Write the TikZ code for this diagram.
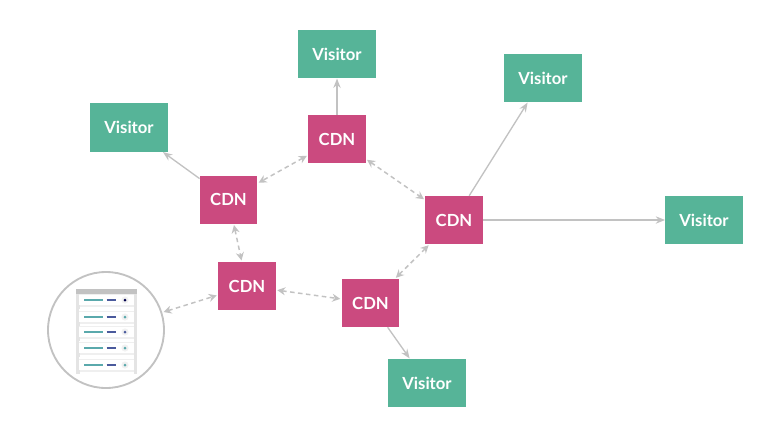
\documentclass[tikz,border=0pt]{standalone}
\usepackage{fontspec}
\setmainfont{Lato}
\usetikzlibrary{
  positioning,
  arrows.meta
}
\definecolor{cdnpink}{HTML}{CB4A7F}
\definecolor{visgreen}{HTML}{56B498}
\definecolor{linegray}{HTML}{C2C2C2}
\definecolor{rackgray}{HTML}{E4E4E4}
\definecolor{rackteal}{HTML}{5AA9AC}
\definecolor{racknavy}{HTML}{4A5A9C}

\begin{document}
\begin{tikzpicture}[
  x=0.75pt, y=-0.75pt,
  cdn/.style={rectangle, fill=cdnpink, text=white, inner sep=0pt, minimum width=43pt, minimum height=36pt, font=\bfseries\fontsize{12.5}{15}\selectfont},
  visitor/.style={rectangle, fill=visgreen, text=white, inner sep=0pt, minimum width=58pt, minimum height=36.5pt, font=\bfseries\fontsize{12.5}{15}\selectfont},
  link/.style={-{Stealth[length=7pt,width=5.5pt]}, linegray, line width=1pt},
  peer/.style={{Stealth[length=6pt,width=6pt]}-{Stealth[length=6pt,width=6pt]}, linegray, line width=1.1pt, dash pattern=on 3.4pt off 2.6pt, shorten >=1pt, shorten <=1pt}
]
\useasboundingbox (0,0) rectangle (777,432);

% CDN nodes
\node[cdn] (cdn1) at (337,139) {CDN};
\node[cdn] (cdn2) at (228.5,199.5) {CDN};
\node[cdn] (cdn3) at (247,286) {CDN};
\node[cdn] (cdn4) at (370.5,303) {CDN};
\node[cdn] (cdn5) at (454,220) {CDN};

% Visitors
\node[visitor] (v1) at (337,54) {Visitor};
\node[visitor] (v2) at (129,127.5) {Visitor};
\node[visitor] (v3) at (543,78) {Visitor};
\node[visitor] (v4) at (704,220) {Visitor};
\node[visitor] (v5) at (427,383) {Visitor};

% Server
\node[circle, draw=linegray, line width=1.4pt, minimum size=87pt, inner sep=0pt] (server) at (106,330) {};
\fill[rackgray] (76,289) rectangle (137,372);
\fill[white] (79,294) rectangle (134,371);
\fill[linegray] (76,289) rectangle (137,294);
\foreach \y/\c in {300/black!70!blue, 317/rackteal, 332/racknavy, 348/rackteal, 365/rackteal} {
  \fill[rackgray!60] (79,\y-1.5-5) rectangle (134,\y-5);
  \fill[rackgray!60] (79,\y+5) rectangle (134,\y+7);
  \fill[rackgray] (76,\y+5) rectangle (79.5,\y+9);
  \fill[rackgray] (133.5,\y+5) rectangle (137,\y+9);
  \draw[rackteal, line width=0.9pt] (84,\y) -- (103,\y);
  \draw[racknavy, line width=0.9pt] (106.5,\y) -- (116,\y);
  \fill[rackgray!50] (125,\y) circle (3.6);
  \fill[\c] (125,\y) circle (1.5);
}

% Arrows
\draw[link] (cdn1) -- (v1);
\draw[link] (cdn2) -- (v2);
\draw[link] (cdn5) -- (v3);
\draw[link] (cdn5) -- (v4);
\draw[link] (cdn4) -- (v5);

\draw[peer] (cdn1) -- (cdn2);
\draw[peer] (cdn1) -- (cdn5);
\draw[peer] (cdn2) -- (cdn3);
\draw[peer] (cdn3) -- (cdn4);
\draw[peer] (cdn4) -- (cdn5);
\draw[peer] (server) -- (cdn3);

\end{tikzpicture}
\end{document}
